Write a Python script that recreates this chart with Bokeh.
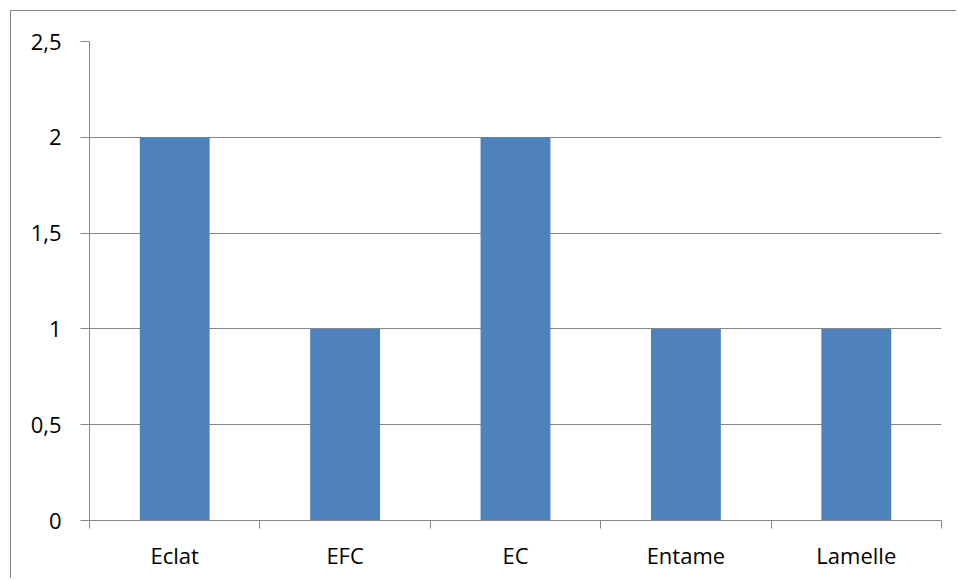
from bokeh.plotting import figure
from bokeh.models import FixedTicker, ColumnDataSource
from bokeh.embed import file_html
from bokeh.resources import INLINE

categories = ["Eclat", "EFC", "EC", "Entame", "Lamelle"]
values = [2, 1, 2, 1, 1]
y_ticks = [0, 0.5, 1, 1.5, 2, 2.5]
y_tick_labels = ["0", "0,5", "1", "1,5", "2", "2,5"]

positions = [i + 0.5 for i in range(len(categories))]
src = ColumnDataSource(dict(x=positions, top=values, name=categories))

p = figure(width=946, height=568, output_backend="svg", toolbar_location=None,
           x_range=(0, len(categories)), y_range=(0, 2.5),
           min_border_left=78, min_border_right=16, min_border_top=30, min_border_bottom=59)
p.styles = {"border-left": "1px solid #868686", "border-top": "1px solid #868686",
            "margin-left": "10px", "margin-top": "10px"}
p.outline_line_color = None
p.background_fill_color = "white"
p.border_fill_color = "white"

p.vbar(x="x", top="top", width=0.41, source=src, fill_color="#4F81BD", line_color=None)

grid_color = "#868686"
font = "Open Sans"

p.xgrid.grid_line_color = None
p.ygrid.grid_line_color = grid_color
p.ygrid.grid_line_width = 1
p.ygrid.ticker = FixedTicker(ticks=y_ticks)

p.yaxis.ticker = FixedTicker(ticks=y_ticks)
p.yaxis.major_label_overrides = {t: l for t, l in zip(y_ticks, y_tick_labels)}
p.yaxis.axis_line_color = grid_color
p.yaxis.major_tick_line_color = grid_color
p.yaxis.major_tick_out = 9
p.yaxis.major_tick_in = 0
p.yaxis.minor_tick_line_color = None
p.yaxis.major_label_standoff = 19
p.yaxis.major_label_text_font = font
p.yaxis.major_label_text_font_size = "22px"
p.yaxis.major_label_text_color = "black"

boundaries = list(range(len(categories) + 1))
p.xaxis.ticker = FixedTicker(ticks=positions, minor_ticks=boundaries)
p.xaxis.major_label_overrides = {pos: c for pos, c in zip(positions, categories)}
p.xaxis.axis_line_color = grid_color
p.xaxis.major_tick_line_color = None
p.xaxis.minor_tick_line_color = grid_color
p.xaxis.minor_tick_out = 8
p.xaxis.minor_tick_in = 0
p.xaxis.major_label_standoff = 11
p.xaxis.major_label_text_font = font
p.xaxis.major_label_text_font_size = "22px"
p.xaxis.major_label_text_color = "black"

open("out.html", "w").write(file_html(p, INLINE))
